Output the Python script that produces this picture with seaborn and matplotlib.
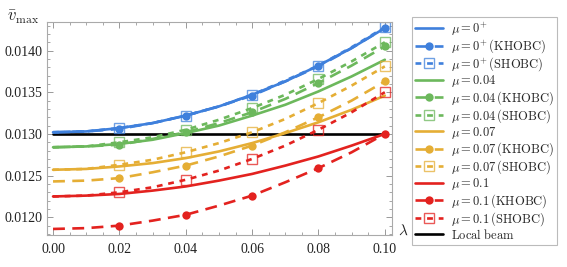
import matplotlib
matplotlib.use("Agg")
import matplotlib.pyplot as plt
import matplotlib.ticker as mticker
from matplotlib.colors import to_rgba
import pandas as pd
import seaborn as sns

sns.set_style("ticks")
plt.rcParams["font.family"] = ["Liberation Serif", "DejaVu Serif"]
plt.rcParams["mathtext.fontset"] = "cm"

# lambda grid (markers drawn at 0.02, 0.04, ..., 0.10)
lam = [0.00, 0.01, 0.02, 0.03, 0.04, 0.05, 0.06, 0.07, 0.08, 0.09, 0.10]

mu0_exact = [0.01302, 0.01303, 0.01307, 0.01313, 0.01322, 0.01333, 0.01347, 0.01363, 0.01382, 0.01403, 0.01427]
mu0_khobc = [0.01302, 0.01303, 0.01306, 0.01313, 0.01322, 0.01333, 0.01346, 0.01363, 0.01381, 0.01403, 0.01427]
mu0_shobc = [0.01302, 0.01303, 0.01307, 0.01313, 0.01322, 0.01333, 0.01347, 0.01364, 0.01382, 0.01404, 0.01428]

mu04_exact = [0.01284, 0.01285, 0.01288, 0.01293, 0.01301, 0.01310, 0.01322, 0.01335, 0.01351, 0.01369, 0.01389]
mu04_khobc = [0.01284, 0.01285, 0.01287, 0.01294, 0.01302, 0.01313, 0.01326, 0.01342, 0.01361, 0.01382, 0.01405]
mu04_shobc = [0.01284, 0.01285, 0.01290, 0.01296, 0.01305, 0.01317, 0.01331, 0.01347, 0.01366, 0.01387, 0.01410]

mu07_exact = [0.01257, 0.01258, 0.01261, 0.01265, 0.01271, 0.01279, 0.01289, 0.01301, 0.01314, 0.01329, 0.01346]
mu07_khobc = [0.01243, 0.01244, 0.01247, 0.01254, 0.01262, 0.01273, 0.01286, 0.01302, 0.01320, 0.01340, 0.01363]
mu07_shobc = [0.01257, 0.01258, 0.01263, 0.01269, 0.01278, 0.01289, 0.01302, 0.01318, 0.01337, 0.01358, 0.01381]

mu10_exact = [0.01225, 0.01226, 0.01228, 0.01232, 0.01237, 0.01244, 0.01252, 0.01262, 0.01273, 0.01286, 0.01300]
mu10_khobc = [0.01186, 0.01187, 0.01190, 0.01196, 0.01203, 0.01214, 0.01226, 0.01242, 0.01259, 0.01278, 0.01300]
mu10_shobc = [0.01225, 0.01226, 0.01230, 0.01236, 0.01245, 0.01256, 0.01270, 0.01286, 0.01305, 0.01326, 0.01350]

local_beam = [0.01300] * len(lam)

mu_labels = ["0^{+}", "0.04", "0.07", "0.1"]
colors = ["#3f80dc", "#6cb85c", "#e5ae35", "#e3221f"]
series = [
    (mu0_exact, mu0_khobc, mu0_shobc),
    (mu04_exact, mu04_khobc, mu04_shobc),
    (mu07_exact, mu07_khobc, mu07_shobc),
    (mu10_exact, mu10_khobc, mu10_shobc),
]

fig = plt.figure(figsize=(5.67, 2.67), dpi=100)
ax = fig.add_axes([0.083, 0.12, 0.608, 0.798])

mk = slice(2, None, 2)
for lab, c, (ex, kh, sh) in zip(mu_labels, colors, series):
    sns.lineplot(x=lam, y=ex, ax=ax, color=c, linewidth=1.9,
                 label=r"$\mu=%s$" % lab)
    sns.lineplot(x=lam, y=kh, ax=ax, color=c, linewidth=1.9,
                 linestyle=(0, (4.5, 2.8)), marker="o", markersize=6,
                 markevery=mk, markeredgewidth=0,
                 label=r"$\mu=%s\,\mathrm{(KHOBC)}$" % lab)
    sns.lineplot(x=lam, y=sh, ax=ax, color=c, linewidth=1.9,
                 linestyle=(0, (2.2, 2.2)), marker="s", markersize=6.8,
                 markevery=mk, markerfacecolor="none",
                 markeredgecolor=to_rgba(c, 0.75), markeredgewidth=1.0,
                 label=r"$\mu=%s\,\mathrm{(SHOBC)}$" % lab)

sns.lineplot(x=lam, y=local_beam, ax=ax, color="black", linewidth=1.9,
             label=r"$\mathrm{Local\ beam}$", zorder=1.5)

ax.set_xlim(-0.0018, 0.1021)
ax.set_ylim(0.011788, 0.014344)
ax.xaxis.set_major_locator(mticker.MultipleLocator(0.02))
ax.xaxis.set_minor_locator(mticker.MultipleLocator(0.005))
ax.yaxis.set_major_locator(mticker.MultipleLocator(0.0005))
ax.yaxis.set_minor_locator(mticker.MultipleLocator(0.0001))
ax.xaxis.set_major_formatter(mticker.FormatStrFormatter("%.2f"))
ax.yaxis.set_major_formatter(mticker.FormatStrFormatter("%.4f"))
ax.tick_params(which="both", direction="in", top=True, right=True,
               colors="#999999", labelcolor="#222222", labelsize=10)
ax.tick_params(which="major", length=4, width=0.7)
ax.tick_params(which="minor", length=2, width=0.6)
ax.tick_params(axis="x", pad=6)
for sp in ax.spines.values():
    sp.set_color("#aaaaaa")
    sp.set_linewidth(0.8)
ax.set_xlabel("")
ax.set_ylabel("")

fig.text(0.012, 0.935, r"$\bar{v}_{\max}$", fontsize=12, va="center", ha="left")
fig.text(0.702, 0.135, r"$\lambda$", fontsize=11, va="center", ha="left")

leg = ax.legend(loc="upper left", bbox_to_anchor=(0.7266, 0.936),
                bbox_transform=fig.transFigure, fontsize=9,
                frameon=True, fancybox=False, edgecolor="#aaaaaa",
                handlelength=2.2, handletextpad=0.7, labelspacing=0.0,
                borderpad=0.25, borderaxespad=0)
leg.get_frame().set_linewidth(0.8)

fig.savefig("out.png", dpi=100)
